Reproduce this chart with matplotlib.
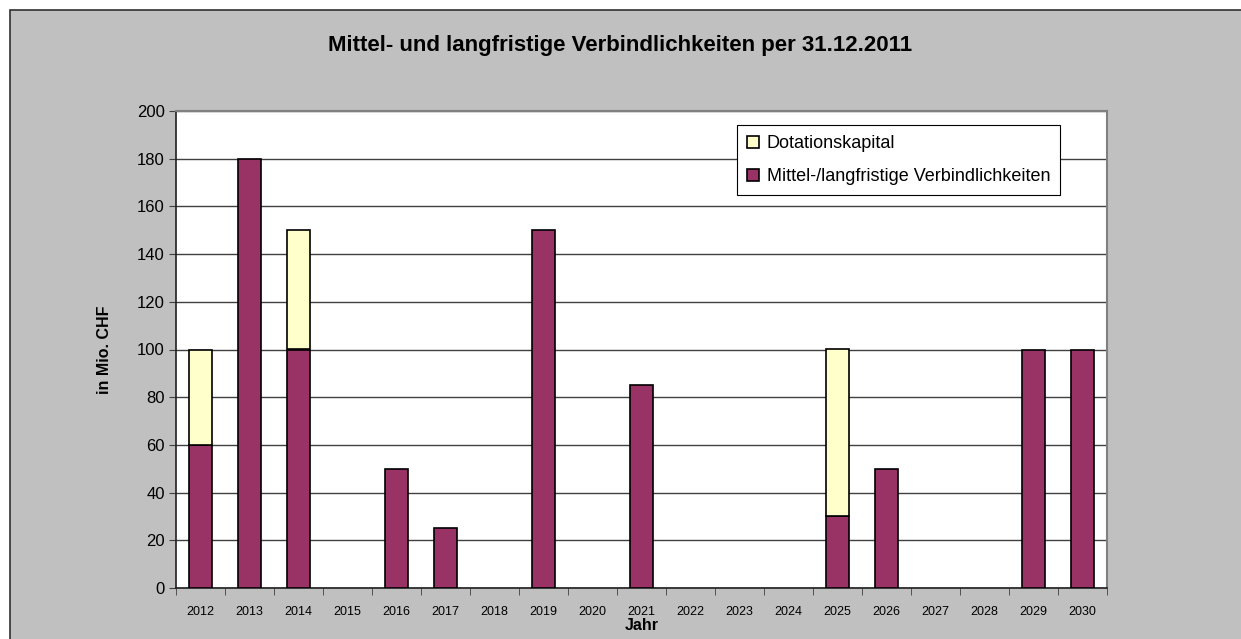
import matplotlib
matplotlib.use("Agg")
import matplotlib.pyplot as plt
from matplotlib.patches import Rectangle
import numpy as np

years = [str(y) for y in range(2012, 2031)]
verbindlichkeiten = [60, 180, 100, 0, 50, 25, 0, 150, 0, 85, 0, 0, 0, 30, 50, 0, 0, 100, 100]
dotationskapital = [40, 0, 50, 0, 0, 0, 0, 0, 0, 0, 0, 0, 0, 70, 0, 0, 0, 0, 0]
yticks = list(range(0, 201, 20))

W, H = 1241, 639
fig = plt.figure(figsize=(W / 100, H / 100), dpi=100)
fig.patch.set_facecolor("white")
# outer chart area
fig.patches.append(Rectangle((10 / W, -0.01), (W - 10) / W + 0.01, (H - 10) / H + 0.01,
                             transform=fig.transFigure, facecolor="#C0C0C0",
                             edgecolor="#303030", linewidth=1.2, zorder=-5))

left, right, top, bottom = 176, 1107, 111, 588
ax = fig.add_axes([left / W, 1 - bottom / H, (right - left) / W, (bottom - top) / H])
ax.set_facecolor("white")

x = np.arange(len(years))
bw = 0.45
verb = np.array(verbindlichkeiten)
dot = np.array(dotationskapital)
vm = verb > 0
ax.bar(x[vm], verb[vm], bw, color="#993366", edgecolor="black", linewidth=1.2,
       label="Mittel-/langfristige Verbindlichkeiten", zorder=3)
dm = dot > 0
ax.bar(x[dm], dot[dm], bw, bottom=verb[dm], color="#FFFFCC", edgecolor="black",
       linewidth=1.2, label="Dotationskapital", zorder=3)

ax.set_xlim(-0.5, len(years) - 0.5)
ax.set_ylim(0, 200)
ax.set_yticks(yticks)
ax.set_yticklabels([str(v) for v in yticks], fontsize=12, family="Liberation Sans")
ax.set_xticks(x)
ax.set_xticklabels(years, fontsize=9, family="Liberation Sans")
ax.set_xticks(np.arange(-0.5, len(years), 1), minor=True)
ax.tick_params(axis="x", which="major", length=0, pad=13)
ax.tick_params(axis="x", which="minor", length=5, color="#404040", direction="out")
ax.tick_params(axis="y", length=5, color="#404040", direction="out", pad=3)
ax.yaxis.grid(True, color="#404040", linewidth=1.0, zorder=1)
ax.set_axisbelow(True)
for s in ["top", "right"]:
    ax.spines[s].set_color("#808080")
    ax.spines[s].set_linewidth(1.5)
for s in ["left", "bottom"]:
    ax.spines[s].set_color("#202020")
    ax.spines[s].set_linewidth(1.2)

ax.set_ylabel("in Mio. CHF", fontsize=11.5, fontweight="bold", family="Liberation Sans", labelpad=18)
ax.set_xlabel("Jahr", fontsize=11.5, fontweight="bold", family="Liberation Sans", labelpad=0)

fig.text(0.5, 1 - 46 / H, "Mittel- und langfristige Verbindlichkeiten per 31.12.2011",
         ha="center", va="center", fontsize=16, fontweight="bold", family="Liberation Sans")

handles, labels = ax.get_legend_handles_labels()
leg = ax.legend(handles[::-1], labels[::-1], loc="upper left",
                bbox_to_anchor=((737 - left) / (right - left), 1 - (125 - top) / (bottom - top)),
                prop={"family": "Liberation Sans", "size": 13}, frameon=True, fancybox=False,
                edgecolor="black", framealpha=1, handlelength=0.65, handleheight=0.65,
                handletextpad=0.45, borderpad=0.55, labelspacing=0.9, borderaxespad=0)
leg.get_frame().set_linewidth(0.8)

fig.savefig("out.png", dpi=100)
